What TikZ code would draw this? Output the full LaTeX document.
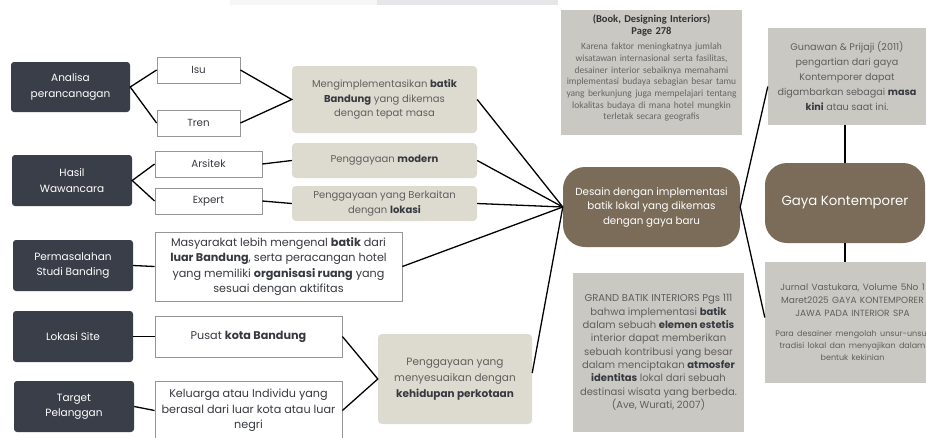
\documentclass[tikz,border=0pt]{standalone}
\usepackage{fontspec}
\setmainfont{Poppins}
\newfontfamily\bookfont{Carlito}
\definecolor{darkb}{RGB}{58,62,72}
\definecolor{beigeb}{RGB}{221,219,207}
\definecolor{brownb}{RGB}{122,108,88}
\definecolor{grayb}{RGB}{201,200,194}
\definecolor{txtgray}{RGB}{95,95,95}
\definecolor{txtdark}{RGB}{55,57,64}
\definecolor{wborder}{RGB}{150,150,150}
\definecolor{topa}{RGB}{246,246,246}
\definecolor{topb}{RGB}{230,230,232}
\tikzset{
  darkbox/.style={fill=darkb, rounded corners=3, text=white, align=center, inner sep=0,
    font=\fontsize{10.5}{15.5}\selectfont},
  wbox/.style={draw=wborder, line width=0.8, fill=white, align=center, text=txtdark, inner sep=0,
    font=\fontsize{10.3}{15}\selectfont},
  wboxl/.style={wbox, font=\fontsize{11.2}{15.3}\selectfont},
  beigebox/.style={fill=beigeb, rounded corners=4, text=txtgray, align=center, inner sep=0,
    font=\fontsize{10}{14.5}\selectfont},
  brownbox/.style={fill=brownb, rounded corners=22, text=white, align=center, inner sep=0},
  graybox/.style={fill=grayb, align=center, inner sep=0, text=txtgray},
  conn/.style={line width=1.3, black},
}
\newcommand{\bb}[1]{\textbf{\color{txtdark}#1}}
\begin{document}
\begin{tikzpicture}[x=1pt,y=-1pt]
\useasboundingbox (0,0) rectangle (926,437);
\fill[white] (0,0) rectangle (926,437);
\fill[topa] (230,0) rectangle (377,5);
\fill[topb] (377,0) rectangle (558,5);

% left dark boxes
\node[darkbox, minimum width=119, minimum height=50] (analisa) at (70.5,87) {Analisa\\perancanagan};
\node[darkbox, minimum width=120, minimum height=51] (hasil) at (72,180.5) {Hasil\\Wawancara};
\node[darkbox, minimum width=120, minimum height=51] (perm) at (73,265.5) {Permasalahan\\Studi Banding};
\node[darkbox, minimum width=120, minimum height=51] (lok) at (73,336.5) {Lokasi Site};
\node[darkbox, minimum width=120, minimum height=51] (target) at (74,406.5) {Target\\Pelanggan};

% white boxes
\node[wbox, minimum width=83, minimum height=26] (isu) at (198.5,70) {Isu};
\node[wbox, minimum width=83, minimum height=26] (tren) at (198.5,123) {Tren};
\node[wbox, minimum width=107, minimum height=26] (arsitek) at (208.5,164) {Arsitek};
\node[wbox, minimum width=107, minimum height=26] (expert) at (208.5,201) {Expert};
\node[wboxl, minimum width=247, minimum height=69] (masy) at (278.5,266.5)
  {Masyarakat lebih mengenal \bb{batik} dari\\\bb{luar Bandung}, serta peracangan hotel\\yang memiliki \bb{organisasi ruang} yang\\sesuai dengan aktifitas};
\node[wboxl, minimum width=187, minimum height=41] (pusat) at (248.5,336.5) {Pusat \bb{kota Bandung}};
\node[wboxl, minimum width=187, minimum height=59] (kel) at (248.5,410.5)
  {Keluarga atau Individu yang\\berasal dari luar kota atau luar\\negri};

% beige boxes
\node[beigebox, minimum width=185, minimum height=67] (meng) at (384.5,99.5)
  {Mengimplementasikan \bb{batik}\\\bb{Bandung} yang dikemas\\dengan tepat masa};
\node[beigebox, minimum width=185, minimum height=35] (modern) at (384.5,160.5) {Penggayaan \bb{modern}};
\node[beigebox, minimum width=185, minimum height=35] (lokasi) at (384.5,203.5)
  {Penggayaan yang Berkaitan\\dengan \bb{lokasi}};
\node[beigebox, minimum width=154, minimum height=90, font=\fontsize{10.5}{16}\selectfont] (meny) at (455,379)
  {Penggayaan yang\\menyesuaikan dengan\\\bb{kehidupan perkotaan}};

% brown nodes
\node[brownbox, minimum width=177, minimum height=80, font=\fontsize{10.3}{14.5}\selectfont] (center) at (651.5,207)
  {Desain dengan implementasi\\batik lokal yang dikemas\\dengan gaya baru};
\node[brownbox, minimum width=160, minimum height=80, font=\fontsize{13.3}{17}\selectfont] (gaya) at (845,203) {Gaya Kontemporer};

% gray reference boxes
\node[graybox, minimum width=181, minimum height=125, text width=181, text=black!60] (book) at (651.5,72.5)
  {\bookfont{\fontsize{10.5}{12}\selectfont\bfseries\color{black!80}(Book, Designing Interiors)\\Page 278\par}
   \vspace{3pt}
   {\fontsize{9.5}{11.7}\selectfont Karena faktor meningkatnya jumlah\\wisatawan internasional serta fasilitas,\\desainer interior sebaiknya memahami\\implementasi budaya sebagian besar tamu\\yang berkunjung juga mempelajari tentang\\lokalitas budaya di mana hotel mungkin\\terletak secara geografis\par}
   \vspace{-2pt}\mbox{}};
\node[graybox, minimum width=158, minimum height=97, font=\fontsize{9.6}{15}\selectfont] (gun) at (847,76.5)
  {Gunawan \& Prijaji (2011)\\pengartian dari gaya\\Kontemporer dapat\\digambarkan sebagai \bb{masa}\\\bb{kini} atau saat ini.};
\node[graybox, minimum width=175, minimum height=121, text width=175] (jur) at (852.5,322.5)
  {{\fontsize{9}{13}\selectfont Jurnal Vastukara, Volume 5No 1\\Maret2025 GAYA KONTEMPORER\\JAWA PADA INTERIOR SPA\par}
   \vspace{8pt}
   {\fontsize{8}{12}\selectfont Para desainer mengolah unsur-unsur\\tradisi lokal dan menyajikan dalam\\bentuk kekinian\par}};
\node[graybox, minimum width=171, minimum height=159, font=\fontsize{10}{13.3}\selectfont] (grand) at (658.5,352.5)
  {GRAND BATIK INTERIORS Pgs 111\\bahwa implementasi \bb{batik}\\dalam sebuah \bb{elemen estetis}\\interior dapat memberikan\\sebuah kontribusi yang besar\\dalam menciptakan \bb{atmosfer}\\\bb{identitas} lokal dari sebuah\\destinasi wisata yang berbeda.\\(Ave, Wurati, 2007)};

% connectors
\draw[conn] (isu.west) -- (analisa.east) -- (tren.west);
\draw[conn] (isu.east) -- (meng.west) -- (tren.east);
\draw[conn] (arsitek.west) -- (hasil.east) -- (expert.west);
\draw[conn] (arsitek.east) -- (modern.west);
\draw[conn] (expert.east) -- (lokasi.west);
\draw[conn] (perm.east) -- (masy.west);
\draw[conn] (lok.east) -- (pusat.west);
\draw[conn] (target.east) -- (kel.west);
\draw[conn] (pusat.east) -- (meny.west) -- (kel.east);
\draw[conn] (meng.east) -- (center.west);
\draw[conn] (modern.east) -- (center.west);
\draw[conn] (lokasi.east) -- (center.west);
\draw[conn] (masy.east) -- (center.west);
\draw[conn] ([yshift=6pt]meny.east) -- (center.west);
\draw[conn] ([yshift=-10pt]gun.west) -- (center.east) -- ([yshift=5pt]jur.west);
\draw[conn] (gun.south -| gaya.north) -- (gaya.north);
\draw[conn] (gaya.south) -- (gaya.south |- jur.north);
\end{tikzpicture}
\end{document}
